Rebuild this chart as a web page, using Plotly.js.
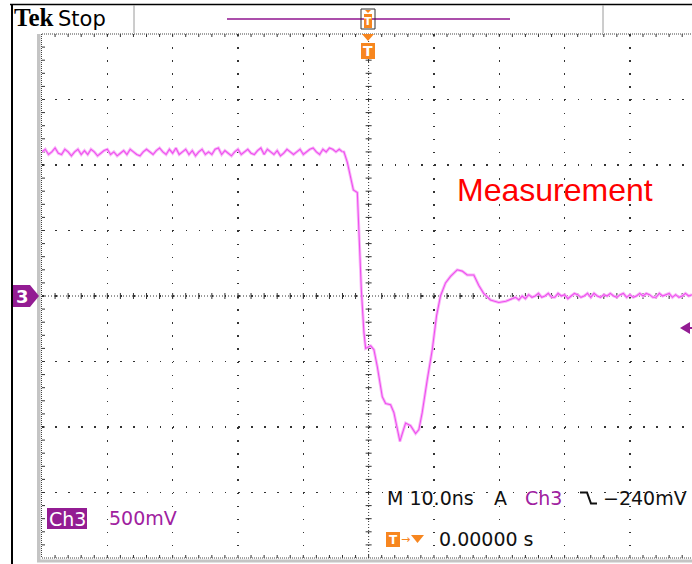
<!DOCTYPE html>
<html>
<head>
<meta charset="utf-8">
<script src="https://cdn.plot.ly/plotly-3.0.1.min.js"></script>
<style>html,body{margin:0;padding:0;background:#fff;}#chart{width:692px;height:564px;}</style>
</head>
<body>
<div id="chart"></div>
<script>
// ---- Data (time in ns, voltage in V; Ch3, 500 mV/div, 10 ns/div) ----
const preStart = -50;      // ns, first sample of the pre-trigger record
const postStart = 22;      // ns, first sample of the settled tail
const sampleStep = 0.5;    // ns between samples
const preVolts = [
  1.10,1.12,1.08,1.10,1.13,1.09,1.08,1.12,1.10,1.07,
  1.10,1.12,1.08,1.11,1.08,1.12,1.10,1.07,1.09,1.11,
  1.12,1.08,1.10,1.07,1.09,1.11,1.08,1.12,1.10,1.08,
  1.07,1.10,1.12,1.10,1.08,1.11,1.13,1.10,1.08,1.12,
  1.09,1.13,1.08,1.10,1.12,1.08,1.11,1.07,1.10,1.12,
  1.08,1.10,1.08,1.12,1.13,1.08,1.11,1.09,1.07,1.10,
  1.12,1.08,1.10,1.12,1.09,1.08,1.11,1.13,1.08,1.12,
  1.10,1.08,1.11,1.07,1.09,1.12,1.10,1.08,1.10,1.12,
  1.08,1.10,1.12,1.13,1.10,1.08,1.12,1.10,1.13,1.12,
  1.10,1.12,1.10
];
const edgeTimes = [-4.0,-3.78,-3.26,-2.75,-2.34,-1.73,-1.48,-1.12,-0.72,-0.46,0.31,0.81,1.33,2.09,2.6,3.36,3.87,4.38,4.79,5.15,5.66,6.42,7.19,7.69,8.2,8.97,9.74,10.4,11.0,11.77,12.54,13.56,14.33,15.09,16.1,16.87,17.6,18.65,19.92,21.0,22.0];
const edgeVolts = [1.10,1.10,1.02,0.89,0.81,0.79,0.49,0.05,-0.28,-0.40,-0.38,-0.41,-0.54,-0.77,-0.82,-0.83,-0.89,-1.02,-1.11,-1.05,-0.97,-0.99,-1.05,-1.02,-0.89,-0.64,-0.41,-0.15,0.00,0.10,0.15,0.20,0.19,0.16,0.16,0.08,0.02,-0.03,-0.05,-0.04,-0.02];
const postVolts = [
  -0.02,-0.01,-0.03,0.00,-0.02,0.01,-0.01,0.00,0.02,-0.01,
  0.00,0.02,-0.01,-0.01,0.02,0.00,0.01,-0.02,0.00,0.02,
  0.01,-0.01,0.00,0.02,-0.01,0.02,0.00,-0.01,0.01,0.00,
  0.02,0.00,-0.01,0.01,0.02,-0.01,0.01,-0.01,0.00,0.02,
  0.00,0.02,0.01,-0.01,-0.01,0.02,0.00,0.01,0.02,-0.01,
  0.01,-0.01,0.00,0.02,0.00,0.01
];
const timeRange = [-50, 49.5];
const voltRange = [-2, 2];
const measurementLabel = "Measurement";
const scaleLabel = "500mV";
const timebaseLabel = "M 10.0ns";
const triggerLevelLabel = "\u2212240mV";
const triggerTimeLabel = "0.00000 s";

// ---- Styling helpers ----
const PURPLE = '#931c93', PTEXT = '#a0219f', ORANGE = '#f7861f', TRACE = '#ee50ee', HALO = '#f9b8f9';
const L = 42, R = 692, T = 34, B = 558;
const X = px => (px - L) / (R - L);
const Y = py => (B - py) / (B - T);
const shapes = [], annotations = [];
function pline(x0,y0,x1,y1,color,width,dash){shapes.push({type:'line',xref:'paper',yref:'paper',x0:X(x0),y0:Y(y0),x1:X(x1),y1:Y(y1),line:{color:color,width:width,dash:dash||'solid'}});}
function prect(x0,y0,x1,y1,fill,lineColor,lw){shapes.push({type:'rect',xref:'paper',yref:'paper',x0:X(x0),y0:Y(y0),x1:X(x1),y1:Y(y1),fillcolor:fill,line:{color:lineColor||fill,width:lw===undefined?0:lw}});}
function ppath(pts,fill,lineColor,lw){let d=pts.map((p,i)=>(i?'L':'M')+X(p[0])+','+Y(p[1])).join(' ')+(fill?' Z':'');shapes.push({type:'path',xref:'paper',yref:'paper',path:d,fillcolor:fill||'rgba(0,0,0,0)',line:{color:lineColor||fill,width:lw===undefined?0:lw}});}
function ann(text,x,y,size,color,family,xanchor){annotations.push({text:text,xref:'paper',yref:'paper',x:X(x),y:Y(y),xanchor:xanchor||'left',yanchor:'middle',showarrow:false,font:{size:size,color:color,family:family||'DejaVu Sans'}});}

// ---- Graticule decorations ----
shapes.push({type:'line',xref:'x',yref:'y',layer:'below',x0:timeRange[0],x1:timeRange[1],y0:0,y1:0,line:{color:'#333',width:1,dash:'1px,2px'}});
shapes.push({type:'line',xref:'x',yref:'y',layer:'below',x0:0,x1:0,y0:voltRange[0],y1:voltRange[1],line:{color:'#333',width:1,dash:'1px,2px'}});
for(let k=-24;k<=24;k++){
  const t=2*k;
  if(k!==0){
    shapes.push({type:'line',xref:'x',yref:'y',layer:'below',x0:t,x1:t,ysizemode:'pixel',yanchor:0,y0:-3,y1:3,line:{color:'#333',width:1}});
  }
  shapes.push({type:'line',xref:'x',yref:'y',layer:'below',x0:t,x1:t,ysizemode:'pixel',yanchor:voltRange[1],y0:-3,y1:0,line:{color:'#333',width:1}});
  shapes.push({type:'line',xref:'x',yref:'y',layer:'below',x0:t,x1:t,ysizemode:'pixel',yanchor:voltRange[0],y0:0,y1:3,line:{color:'#333',width:1}});
}
for(let k=-19;k<=19;k++){
  const v=0.1*k;
  if(k!==0){
    shapes.push({type:'line',xref:'x',yref:'y',layer:'below',y0:v,y1:v,xsizemode:'pixel',xanchor:0,x0:-3,x1:3,line:{color:'#333',width:1}});
  }
  shapes.push({type:'line',xref:'x',yref:'y',layer:'below',y0:v,y1:v,xsizemode:'pixel',xanchor:timeRange[0],x0:0,x1:3,line:{color:'#333',width:1}});
}
prect(37,34,40.5,562,'#c4c4c4');
prect(37,559.5,692,562.5,'#c4c4c4');
pline(42,34,692,34,'#444',1,'1px,1px');
pline(42,558,692,558,'#444',1,'1px,1px');
pline(41.5,34,41.5,558,'#444',1,'1px,1px');

// outer frame & header
pline(10,4.5,692,4.5,'#000',1.5);
pline(12,4,12,564,'#000',2);
pline(134,5,134,33,'#9a9a9a',1);
pline(603,5,603,33,'#9a9a9a',1);
pline(227,19,510,19,'#ab4fab',2);
prect(361,9,375,29,'rgba(0,0,0,0)','#333',1);
ppath([[365,10],[371,10],[368,13]],ORANGE);
prect(364,14,372,28,ORANGE);
ann('<b>T</b>',368,21.5,11,'#fff','DejaVu Sans','center');
ann('<b>Tek</b>',12,18,25,'#000','Liberation Serif');
ann('Stop',56,18.5,21,'#000','DejaVu Sans');

// trigger position marker under top edge
ppath([[362,34],[374,34],[368,41]],ORANGE);
prect(361,43,375,59,ORANGE);
ann('<b>T</b>',368,51.5,14,'#fff','DejaVu Sans','center');

// channel ground marker
ppath([[13,285],[30,285],[39,296],[30,307],[13,307]],PURPLE);
ann('<b>3</b>',22,296.5,18,'#fff','DejaVu Sans','center');
// trigger level marker on right
ppath([[680,328],[690,322],[690,334]],PURPLE);
pline(689,328,692,328,PURPLE,2);

// measurement label
ann(measurementLabel,455,190,32,'#ff0000','Liberation Sans');

// bottom readouts
prect(47,508,87,529,PURPLE);
ann('Ch3',67,518.5,19,'#fff','DejaVu Sans','center');
ann(scaleLabel,107,518,19,PTEXT,'DejaVu Sans');
ann(timebaseLabel,385,498,19,'#111','DejaVu Sans');
ann('A',492,498,19,'#111','DejaVu Sans');
ann('Ch3',523,498,19,PTEXT,'DejaVu Sans');
ppath([[580,492.5],[587,492.5],[591,503.5],[597,503.5]],null,'#111',2);
ann(triggerLevelLabel,601,498,19,'#111','DejaVu Sans');
prect(386,532,400,547,ORANGE);
ann('<b>T</b>',393,539.5,12,'#fff','DejaVu Sans','center');
ann('\u2192',405,539,11,ORANGE,'DejaVu Sans','center');
ppath([[411,535],[424,535],[417.5,543]],ORANGE);
ann(triggerTimeLabel,437,539,19,'#111','DejaVu Sans');

// ---- Traces ----
function seg(xs,ys,x0){
  const base = xs ? {x:xs} : {x0:x0,dx:sampleStep};
  return [
    Object.assign({type:'scatter',mode:'lines',y:ys,line:{color:HALO,width:3},hoverinfo:'skip',showlegend:false},base),
    Object.assign({type:'scatter',mode:'lines',y:ys,line:{color:TRACE,width:1.1},hoverinfo:'skip',showlegend:false},base)
  ];
}
const data = [].concat(seg(null,preVolts,preStart), seg(edgeTimes,edgeVolts), seg(null,postVolts,postStart));

const gridCommon = {showgrid:true,gridcolor:'#333',gridwidth:1.5,zeroline:false,showticklabels:false,ticks:'',showline:false,fixedrange:true};
const layout = {
  width:692,height:564,
  margin:{l:L,r:692-R,t:T,b:564-B,pad:0},
  paper_bgcolor:'#fff',plot_bgcolor:'#fff',
  showlegend:false,
  xaxis:Object.assign({range:timeRange,dtick:10,tick0:0,griddash:'1.5px,11.6px'},gridCommon),
  yaxis:Object.assign({range:voltRange,dtick:0.5,tick0:0,griddash:'1.5px,11.57px'},gridCommon),
  shapes:shapes,
  annotations:annotations
};
Plotly.newPlot('chart',data,layout,{displayModeBar:false,staticPlot:true});
</script>
</body>
</html>
